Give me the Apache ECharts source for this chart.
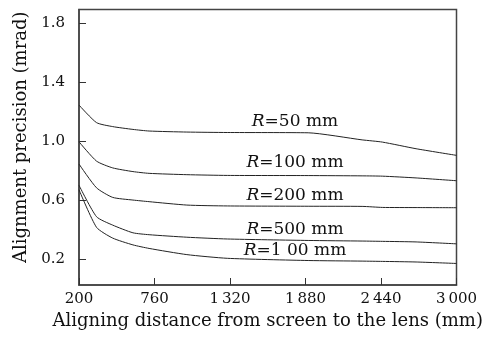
<!DOCTYPE html>
<html><head><meta charset="utf-8">
<script src="https://cdn.jsdelivr.net/npm/echarts@6/dist/echarts.min.js"></script>
<style>html,body{margin:0;padding:0;background:#fff}#c{width:482px;height:339px}</style>
</head><body><div id="c"></div>
<script>
const distances = [200, 330, 450, 600, 720, 1000, 1300, 1900, 2300, 2450, 2700, 3000];
const r50   = [1.244, 1.125, 1.098, 1.079, 1.068, 1.061, 1.058, 1.056, 1.008, 0.993, 0.948, 0.903];
const r100  = [0.995, 0.864, 0.818, 0.793, 0.781, 0.772, 0.767, 0.766, 0.764, 0.762, 0.750, 0.731];
const r200  = [0.844, 0.683, 0.618, 0.600, 0.589, 0.566, 0.560, 0.558, 0.557, 0.550, 0.549, 0.548];
const r500  = [0.700, 0.487, 0.430, 0.378, 0.365, 0.348, 0.336, 0.326, 0.322, 0.320, 0.316, 0.303];
const r1000 = [0.670, 0.415, 0.342, 0.296, 0.272, 0.230, 0.205, 0.190, 0.186, 0.184, 0.180, 0.170];
const seriesNames = ['R=50 mm', 'R=100 mm', 'R=200 mm', 'R=500 mm', 'R=1 00 mm'];
const labelPos = [[1802, 1.129], [1802, 0.851], [1802, 0.627], [1802, 0.403], [1802, 0.256]];
const xTicks = [200, 760, 1320, 1880, 2440, 3000];
const yTicks = [0.2, 0.6, 1.0, 1.4, 1.8];

const FONT = 'DejaVu Serif';
const TXT = '#111';
const allSeries = [r50, r100, r200, r500, r1000];
const chart = echarts.init(document.getElementById('c'));
chart.setOption({
  animation: false,
  grid: {left: 79, top: 9.5, right: 25.5, bottom: 54, containLabel: false, outerBoundsMode: 'none',
    show: true, borderColor: '#444', borderWidth: 1.5},
  xAxis: {
    type: 'value', min: 200, max: 3000,
    name: 'Aligning distance from screen to the lens (mm)', nameLocation: 'middle', nameGap: 25,
    nameTextStyle: {fontFamily: FONT, fontSize: 18, color: TXT},
    axisLine: {show: true, lineStyle: {color: '#444', width: 1.5}},
    axisTick: {show: true, inside: true, length: 7, customValues: xTicks, lineStyle: {color: '#333'}},
    axisLabel: {customValues: xTicks, fontFamily: FONT, fontSize: 15, color: TXT, margin: 7,
      formatter: v => { const s = String(v); return s.length > 3 ? s.slice(0, s.length - 3) + '\u2009' + s.slice(-3) : s; }},
    splitLine: {show: false}
  },
  yAxis: {
    type: 'value', min: 0.024, max: 1.892,
    name: 'Alignment precision (mrad)', nameLocation: 'middle', nameGap: 48,
    nameTextStyle: {fontFamily: FONT, fontSize: 18, color: TXT, padding: [0, 0, 0, 20]},
    axisLine: {show: true, lineStyle: {color: '#444', width: 1.5}},
    axisTick: {show: true, inside: true, length: 7, customValues: yTicks, lineStyle: {color: '#333'}},
    axisLabel: {customValues: yTicks, fontFamily: FONT, fontSize: 15, color: TXT, margin: 14,
      formatter: v => v.toFixed(1)},
    splitLine: {show: false}
  },
  series: allSeries.map((vals, i) => ({
    type: 'line', name: seriesNames[i], showSymbol: false, smooth: 0.2,
    data: distances.map((d, j) => [d, vals[j]]),
    lineStyle: {color: '#222', width: 1},
    markPoint: {
      symbol: 'rect', symbolSize: 1,
      itemStyle: {color: 'rgba(0,0,0,0)'},
      data: [{coord: labelPos[i], value: seriesNames[i]}],
      label: {show: true, position: 'inside', fontFamily: FONT, fontSize: 17, color: TXT,
        formatter: () => '{i|R}' + seriesNames[i].slice(1),
        rich: {i: {fontStyle: 'italic', fontFamily: FONT, fontSize: 17, color: TXT}}}
    }
  }))
});
</script></body></html>
